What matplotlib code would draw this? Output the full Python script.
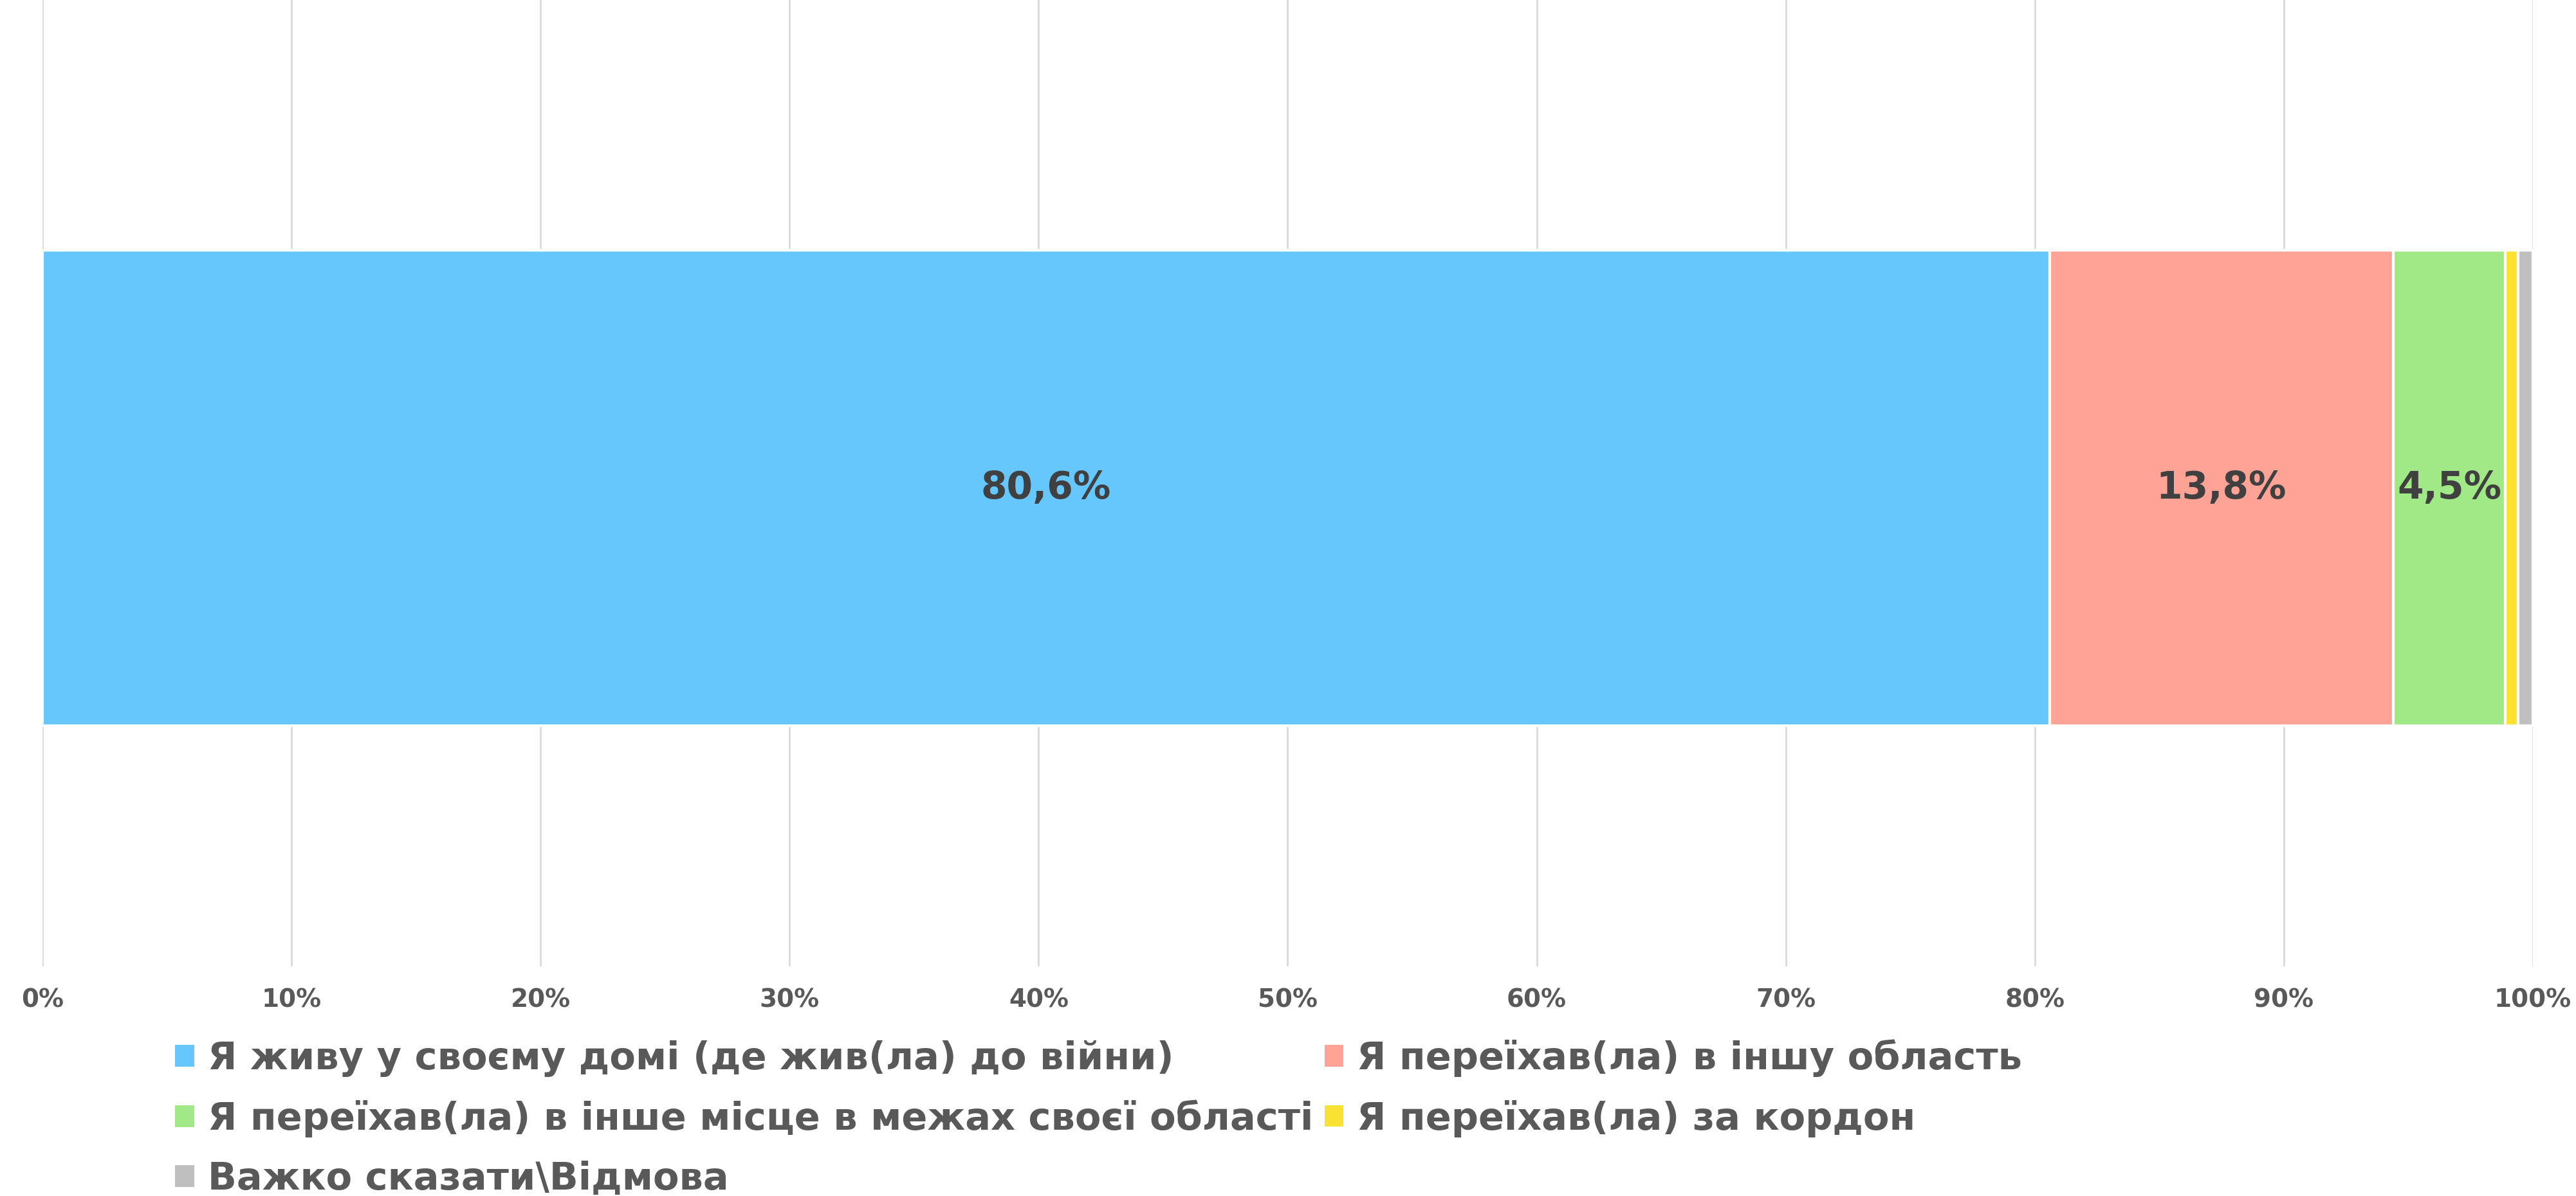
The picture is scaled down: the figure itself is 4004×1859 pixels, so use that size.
import matplotlib.pyplot as plt
from matplotlib.patches import Patch

plt.rcParams['font.family'] = ['DejaVu Sans']

# data
categories = [
    'Я живу у своєму домі (де жив(ла) до війни)',
    'Я переїхав(ла) в іншу область',
    'Я переїхав(ла) в інше місце в межах своєї області',
    'Я переїхав(ла) за кордон',
    'Важко сказати\\Відмова',
]
values = [80.6, 13.8, 4.5, 0.5, 0.6]
colors = ['#66C7FD', '#FFA396', '#A1E887', '#FAE232', '#BFBFBF']
shown_labels = ['80,6%', '13,8%', '4,5%', '', '']
ticks = list(range(0, 101, 10))
tick_labels = [f'{t}%' for t in ticks]

fig = plt.figure(figsize=(40.05, 18.59), dpi=100)
ax = fig.add_axes([0.0165, 0.192, 0.9665, 0.808])

left = 0
for val, col, lab in zip(values, colors, shown_labels):
    ax.barh(-0.01, val, left=left, height=0.985, color=col,
            edgecolor='white', linewidth=3, zorder=3)
    if lab:
        ax.text(left + val / 2, -0.01, lab, ha='center', va='center',
                fontsize=42, fontweight='bold', color='#404040', zorder=4)
    left += val

ax.set_xlim(0, 100)
ax.set_ylim(-1, 1)
ax.set_xticks(ticks)
ax.set_xticklabels(tick_labels)
ax.set_yticks([])
ax.tick_params(axis='x', length=0, pad=24, labelsize=28, labelcolor='#595959')
for t in ax.get_xticklabels():
    t.set_fontweight('bold')
ax.grid(axis='x', color='#D9D9D9', linewidth=2, zorder=0)
for s in ax.spines.values():
    s.set_visible(False)

# legend filled row by row
order = [0, 2, 4, 1, 3]
handles = [Patch(facecolor=colors[i], edgecolor='none') for i in order]
labels = [categories[i] for i in order]
leg = fig.legend(handles, labels, loc='upper left', bbox_to_anchor=(0.068, 0.131),
                 ncol=2, frameon=False, fontsize=42.5, handlelength=0.5,
                 handleheight=0.5, handletextpad=0.35, columnspacing=0.3,
                 labelspacing=0.6, borderpad=0, borderaxespad=0)
for t in leg.get_texts():
    t.set_fontweight('bold')
    t.set_color('#595959')

fig.savefig('out.png', dpi=100, facecolor='white')
